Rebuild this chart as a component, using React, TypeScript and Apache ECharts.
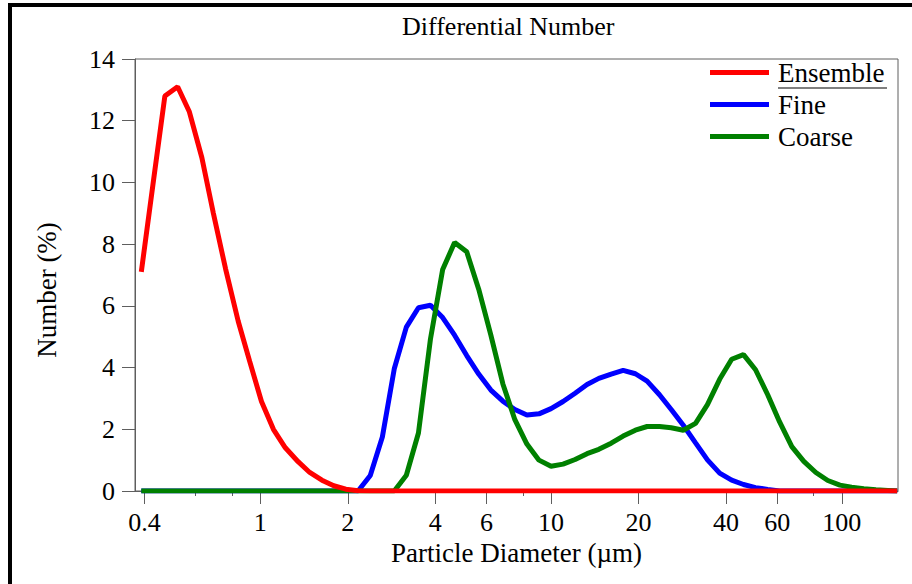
import React, { useEffect, useRef } from "react";
import * as echarts from "echarts";

// Particle diameters (µm) of the size classes
const sizes = [
  0.39, 0.43, 0.47, 0.52, 0.57, 0.63, 0.69, 0.76, 0.84, 0.92, 1.01, 1.11, 1.22, 1.35, 1.48, 1.63,
  1.79, 1.97, 2.17, 2.39, 2.63, 2.89, 3.18, 3.5, 3.85, 4.24, 4.66, 5.13, 5.64, 6.21, 6.83, 7.51,
  8.26, 9.09, 10.0, 11.0, 12.1, 13.3, 14.6, 16.1, 17.7, 19.5, 21.4, 23.6, 25.9, 28.5, 31.4, 34.5,
  38.0, 41.8, 45.9, 50.5, 55.6, 61.1, 67.3, 74.0, 81.4, 89.5, 98.5, 108, 119, 131, 144, 155,
];

// Number (%) per class
const ensemble = [
  7.1, 10.1, 12.8, 13.1, 12.3, 10.8, 9.0, 7.2, 5.5, 4.2, 2.9, 2.0, 1.4, 0.95, 0.6, 0.35,
  0.17, 0.06, 0.01, 0, 0, 0, 0, 0, 0, 0, 0, 0, 0, 0, 0, 0,
  0, 0, 0, 0, 0, 0, 0, 0, 0, 0, 0, 0, 0, 0, 0, 0,
  0, 0, 0, 0, 0, 0, 0, 0, 0, 0, 0, 0, 0, 0, 0, 0,
];
const fine = [
  0, 0, 0, 0, 0, 0, 0, 0, 0, 0, 0, 0, 0, 0, 0, 0,
  0, 0, 0, 0.5, 1.75, 3.96, 5.31, 5.94, 6.02, 5.62, 5.05, 4.39, 3.79, 3.27, 2.91, 2.64,
  2.46, 2.5, 2.67, 2.9, 3.17, 3.45, 3.65, 3.79, 3.91, 3.8, 3.56, 3.12, 2.64, 2.13, 1.56, 1.01,
  0.58, 0.35, 0.21, 0.11, 0.05, 0, 0, 0, 0, 0, 0, 0, 0, 0, 0, 0,
];
const coarse = [
  0, 0, 0, 0, 0, 0, 0, 0, 0, 0, 0, 0, 0, 0, 0, 0,
  0, 0, 0, 0, 0, 0, 0.51, 1.88, 4.93, 7.18, 8.05, 7.75, 6.54, 5.05, 3.47, 2.31,
  1.52, 1.0, 0.8, 0.87, 1.02, 1.21, 1.35, 1.55, 1.78, 1.97, 2.09, 2.09, 2.05, 1.97, 2.19, 2.8,
  3.62, 4.27, 4.42, 3.93, 3.12, 2.24, 1.44, 0.96, 0.6, 0.34, 0.19, 0.12, 0.07, 0.04, 0.02, 0,
];

const majorTicks = [0.4, 1, 2, 4, 6, 10, 20, 40, 60, 100];
const minorTicks = [0.6, 0.8, 8, 80];
const xMin = 0.371;
const xMax = 156;

const FONT = '"Liberation Serif", "Times New Roman", serif';
const FRAME = "#5e5e5e";

const lg = (v: number) => Math.log10(v);
const fmt = (v: number) => {
  const d = Math.pow(10, v);
  return String(Math.round(d * 10) / 10);
};

export default function App() {
  const ref = useRef<HTMLDivElement>(null);

  useEffect(() => {
    if (!ref.current) return;
    const chart = echarts.init(ref.current, undefined, { renderer: "svg" });
    const mk = (vals: number[]) => sizes.map((s, i) => [lg(s), vals[i]]);
    const line = (name: string, color: string, vals: number[]) => ({
      name,
      type: "line",
      data: mk(vals),
      showSymbol: false,
      symbol: "none",
      color,
      lineStyle: { width: 5, color },
      itemStyle: { color },
      xAxisIndex: 0,
      yAxisIndex: 0,
    });
    chart.setOption({
      animation: false,
      backgroundColor: "#ffffff",
      title: {
        text: "Differential Number",
        left: 402,
        top: 13,
        padding: 0,
        textStyle: { fontFamily: FONT, fontSize: 26, fontWeight: "normal", color: "#000" },
      },
      legend: {
        orient: "vertical",
        left: 710,
        top: 59,
        padding: 0,
        itemGap: 5,
        itemWidth: 59,
        itemHeight: 5,
        icon: "rect",
        data: ["Ensemble", "Fine", "Coarse"],
        textStyle: {
          fontFamily: FONT,
          fontSize: 27,
          lineHeight: 27,
          color: "#000",
          padding: [0, 0, 0, 4],
        },
      },
      grid: {
        left: 135,
        right: 14,
        top: 59,
        bottom: 93,
        show: true,
        borderColor: FRAME,
        borderWidth: 1,
        containLabel: false,
      },
      xAxis: [
        {
          type: "value",
          min: lg(xMin),
          max: lg(xMax),
          position: "bottom",
          name: "Particle Diameter (µm)",
          nameLocation: "middle",
          nameGap: 48,
          nameTextStyle: { fontFamily: FONT, fontSize: 27, color: "#000" },
          axisLine: { show: true, onZero: false, lineStyle: { color: FRAME, width: 1 } },
          axisTick: {
            show: true,
            inside: false,
            length: 13,
            customValues: majorTicks.map(lg),
            lineStyle: { color: FRAME },
          },
          axisLabel: {
            show: true,
            margin: 18,
            customValues: majorTicks.map(lg),
            formatter: (v: number) => fmt(v),
            fontFamily: FONT,
            fontSize: 26,
            color: "#000",
          },
          splitLine: { show: false },
        },
        {
          type: "value",
          min: lg(xMin),
          max: lg(xMax),
          position: "bottom",
          axisLine: { show: false, onZero: false },
          axisTick: {
            show: true,
            inside: false,
            length: 5,
            customValues: minorTicks.map(lg),
            lineStyle: { color: FRAME },
          },
          axisLabel: { show: false },
          splitLine: { show: false },
        },
      ],
      yAxis: {
        type: "value",
        min: 0,
        max: 14,
        interval: 2,
        position: "left",
        name: "Number (%)",
        nameLocation: "middle",
        nameRotate: 90,
        nameGap: 75,
        nameTextStyle: { fontFamily: FONT, fontSize: 27, color: "#000", padding: [0, 30, 0, 0] },
        axisLine: { show: true, onZero: false, lineStyle: { color: FRAME, width: 1 } },
        axisTick: { show: true, inside: false, length: 13, lineStyle: { color: FRAME } },
        axisLabel: { margin: 20, fontFamily: FONT, fontSize: 26, color: "#000" },
        splitLine: { show: false },
      },
      graphic: [
        { type: "rect", shape: { x: 8, y: 3, width: 904, height: 4 }, style: { fill: "#000" } },
        { type: "rect", shape: { x: 8, y: 3, width: 4, height: 581 }, style: { fill: "#000" } },
        {
          type: "line",
          shape: { x1: 778, y1: 88, x2: 887, y2: 88 },
          style: { stroke: "#555", lineWidth: 1.5 },
        },
      ],
      series: [
        line("Fine", "#0000ff", fine),
        line("Coarse", "#008000", coarse),
        line("Ensemble", "#ff0000", ensemble),
      ],
    });
    return () => chart.dispose();
  }, []);

  return (
    <div
      ref={ref}
      style={{ position: "absolute", left: 0, top: 0, width: 912, height: 584 }}
    />
  );
}
